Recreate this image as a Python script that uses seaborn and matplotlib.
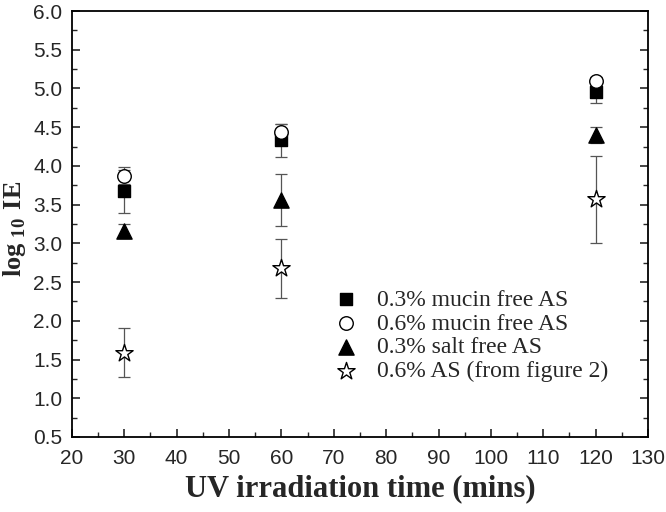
import matplotlib
matplotlib.use("Agg")
import matplotlib.pyplot as plt
import seaborn as sns
import pandas as pd
from matplotlib.ticker import MultipleLocator

# data
times = [30, 60, 120]
labels = ["0.3% mucin free AS", "0.6% mucin free AS", "0.3% salt free AS", "0.6% AS (from figure 2)"]
mucin03 = [3.67, 4.33, 4.96]
mucin03_err = [0.28, 0.21, 0.15]
mucin06 = [3.87, 4.44, 5.09]
mucin06_err = [0.11, 0.10, 0.06]
salt03 = [3.16, 3.56, 4.40]
salt03_err = [0.09, 0.34, 0.10]
as06 = [1.59, 2.68, 3.57]
as06_err = [0.32, 0.38, 0.56]

sns.set_style("white")
plt.rcParams["mathtext.fontset"] = "custom"
plt.rcParams["mathtext.bf"] = "Liberation Serif:bold"
plt.rcParams["mathtext.rm"] = "Liberation Serif"

fig = plt.figure(figsize=(6.66, 5.12), dpi=100)
ax = fig.add_axes([0.108, 0.1465, 0.865, 0.832])

series = [
    (mucin03, mucin03_err, "s", "black", 80),
    (mucin06, mucin06_err, "o", "white", 95),
    (salt03, salt03_err, "^", "black", 120),
    (as06, as06_err, "*", "white", 170),
]

for (vals, err, mk, fc, sz), lab in zip(series, labels):
    ax.errorbar(times, vals, yerr=err, fmt="none", ecolor="#555555",
                elinewidth=0.9, capsize=4, capthick=0.9, zorder=2)
    df = pd.DataFrame({"t": times, "v": vals})
    sns.scatterplot(data=df, x="t", y="v", marker=mk, s=sz, color=fc,
                    edgecolor="black", linewidth=1.0, ax=ax, label=lab, zorder=3)

ax.set_xlim(20, 130)
ax.set_ylim(0.5, 6.0)
ax.xaxis.set_major_locator(MultipleLocator(10))
ax.xaxis.set_minor_locator(MultipleLocator(5))
ax.yaxis.set_major_locator(MultipleLocator(0.5))
ax.yaxis.set_minor_locator(MultipleLocator(0.25))
ax.tick_params(axis="both", which="major", direction="in", length=6, width=1.2,
               labelsize=15, top=False, right=True, bottom=True, left=True)
ax.tick_params(axis="x", which="major", pad=9)
ax.tick_params(axis="y", which="major", pad=7)
ax.tick_params(axis="both", which="minor", direction="in", length=3.5, width=1.0,
               top=False, right=True, bottom=True, left=True)
for t in ax.get_xticklabels() + ax.get_yticklabels():
    t.set_family("Liberation Sans")
for sp in ax.spines.values():
    sp.set_linewidth(1.3)
    sp.set_color("black")

ax.set_xlabel("UV irradiation time (mins)", fontsize=22, fontweight="bold",
              family="Liberation Serif", labelpad=4)
ax.set_ylabel("")
# y label placed by hand so it stays inside the figure
fig.text(0.022, 0.553, r"$\mathbf{log}_{\mathbf{\ 10}}\ \mathbf{IE}$", fontsize=19,
         rotation=90, ha="center", va="center")

ax.legend(loc="lower right", bbox_to_anchor=(0.955, 0.095), frameon=False,
          prop={"family": "Liberation Serif", "size": 17}, handletextpad=0.8,
          labelspacing=0.1, handlelength=1.0, borderaxespad=0.2)

fig.savefig("out.png", dpi=100)
